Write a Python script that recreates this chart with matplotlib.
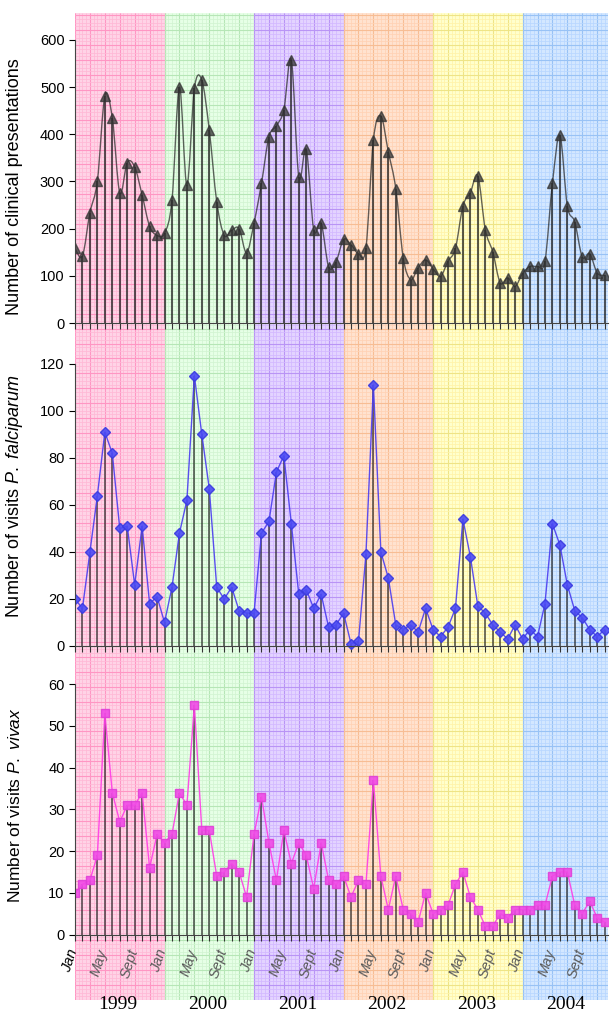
import numpy as np
import matplotlib
matplotlib.use('Agg')
import matplotlib.pyplot as plt
from matplotlib.path import Path
from matplotlib.patches import PathPatch

plt.rcParams['font.family'] = 'Liberation Sans'
plt.rcParams['mathtext.fontset'] = 'custom'
plt.rcParams['mathtext.rm'] = 'Liberation Sans'
plt.rcParams['mathtext.it'] = 'Liberation Sans:italic'

# monthly data Jan 1999 - Dec 2004
years = ['1999', '2000', '2001', '2002', '2003', '2004']
month_labels = ['Jan', 'May', 'Sept']

clinical = [158, 142, 234, 301, 481, 435, 276, 340, 331, 271, 205, 186,
            190, 260, 500, 292, 497, 515, 409, 257, 186, 197, 200, 149,
            212, 296, 395, 418, 452, 558, 310, 368, 198, 212, 119, 130,
            177, 166, 147, 159, 388, 439, 363, 285, 138, 92, 117, 134,
            115, 99, 131, 158, 248, 276, 312, 198, 151, 85, 96, 78,
            105, 120, 120, 131, 296, 398, 248, 214, 140, 147, 106, 101]

falciparum = [20, 16, 40, 64, 91, 82, 50, 51, 26, 51, 18, 21,
              10, 25, 48, 62, 115, 90, 67, 25, 20, 25, 15, 14,
              14, 48, 53, 74, 81, 52, 22, 24, 16, 22, 8, 9,
              14, 1, 2, 39, 111, 40, 29, 9, 7, 9, 6, 16,
              7, 4, 8, 16, 54, 38, 17, 14, 9, 6, 3, 9,
              3, 7, 4, 18, 52, 43, 26, 15, 12, 7, 4, 7]

vivax = [10, 12, 13, 19, 53, 34, 27, 31, 31, 34, 16, 24,
         22, 24, 34, 31, 55, 25, 25, 14, 15, 17, 15, 9,
         24, 33, 22, 13, 25, 17, 22, 19, 11, 22, 13, 12,
         14, 9, 13, 12, 37, 14, 6, 14, 6, 5, 3, 10,
         5, 6, 7, 12, 15, 9, 6, 2, 2, 5, 4, 6,
         6, 6, 7, 7, 14, 15, 15, 7, 5, 8, 4, 3]

band_colors = ['#ffd3e6', '#e6ffe6', '#e3d3ff', '#ffe2cf', '#ffffcc', '#d3e7ff']
minor_colors = ['#ffb8d6', '#d2f4d2', '#d3b8ff', '#ffd2b4', '#fff3a8', '#b8d7ff']
major_colors = ['#ff96c3', '#b6e6b6', '#b994f5', '#f7bd94', '#eee486', '#98c2f5']

W, H = 610, 1013
XMAX = 71.45
months = np.arange(len(clinical))

fig = plt.figure(figsize=(W / 100, H / 100), dpi=100)


def px_axes(top, bottom):
    return [75 / W, 1 - bottom / H, 533 / W, (bottom - top) / H]


# background bands with fine grid
bg = fig.add_axes(px_axes(13, 1000))
bg.set_xlim(0, XMAX)
bg.set_ylim(0, 987)
bg.axis('off')
for i in range(len(years)):
    x0 = 12 * i
    x1 = min(12 * (i + 1), XMAX)
    bg.axvspan(x0, x1, color=band_colors[i], lw=0)
    xs = np.arange(x0, x1 + 0.01, 0.5)
    bg.vlines(xs, 0, 987, color=minor_colors[i], lw=0.55)
    bg.vlines(xs[::4], 0, 987, color=major_colors[i], lw=0.8)
    ys = np.arange(0, 987, 3.73)
    bg.hlines(ys, x0, x1, color=minor_colors[i], lw=0.55)
    bg.hlines(ys[::4], x0, x1, color=major_colors[i], lw=0.8)

# month and year labels
for i in range(len(years)):
    for k, lab in enumerate(month_labels):
        c = 'black' if (i == 0 and k == 0) else '#5a5a5a'
        bg.text(12 * i + 4 * k - 0.7, 53, lab, rotation=72, ha='center', va='top',
                fontsize=10.5, style='italic', color=c)
    bg.text(12 * i + 5.8, -4, years[i], ha='center', va='center',
            fontsize=14, family='Liberation Serif')


def smooth_path(x, y):
    pts = np.column_stack([x, y]).astype(float)
    p = np.vstack([pts[0], pts, pts[-1]])
    verts = [pts[0]]
    codes = [Path.MOVETO]
    for j in range(1, len(p) - 2):
        c1 = p[j] + (p[j + 1] - p[j - 1]) / 6
        c2 = p[j + 1] - (p[j + 2] - p[j]) / 6
        verts += [c1, c2, p[j + 1]]
        codes += [Path.CURVE4] * 3
    return Path(verts, codes)


def setup(ax, ymax, step, ylim):
    ax.set_facecolor('none')
    ax.set_xlim(0, XMAX)
    ax.set_ylim(*ylim)
    for s in ['top', 'right']:
        ax.spines[s].set_visible(False)
    ax.spines['bottom'].set_position(('data', 0))
    ax.spines['left'].set_bounds(0, ymax)
    ax.spines['left'].set_color('#444444')
    ax.spines['bottom'].set_color('#444444')
    ax.set_yticks(np.arange(0, ymax + 1, step))
    ax.set_xticks(months)
    ax.set_xticklabels([])
    ax.tick_params(axis='x', direction='out', length=4, color='#333333')
    ax.tick_params(axis='y', labelsize=10.5, length=4)


# panel 1: clinical presentations
ax1 = fig.add_axes(px_axes(13, 330))
setup(ax1, 600, 100, (-14.8, 657))
ax1.vlines(months, 0, clinical, color='#222222', lw=1.5, alpha=0.75)
ax1.add_patch(PathPatch(smooth_path(months, clinical), fill=False,
                        ec='#222222', lw=1.0, alpha=0.7))
ax1.plot(months, clinical, ls='none', marker='^', ms=7, color='#333333', alpha=0.75)

# panel 2: P. falciparum
ax2 = fig.add_axes(px_axes(340, 655))
setup(ax2, 120, 20, (-3.83, 130.2))
ax2.vlines(months, 0, falciparum, color='#222222', lw=1.2, alpha=0.75)
ax2.plot(months, falciparum, color='#4a3cf0', lw=1.0, marker='D', ms=5,
         mfc='#4b4bf5', mec='#3a3ae0', alpha=0.9)

# panel 3: P. vivax
ax3 = fig.add_axes(px_axes(665, 945))
setup(ax3, 60, 10, (-2.5, 64.6))
ax3.vlines(months, 0, vivax, color='#222222', lw=1.2, alpha=0.75)
ax3.plot(months, vivax, color='#ff3ce6', lw=1.0, marker='s', ms=6,
         mfc='#f04ae6', mec='#e040d8', alpha=0.9)

fig.text(15 / W, 1 - 187 / H, 'Number of clinical presentations', rotation=90,
         ha='center', va='center', fontsize=13)
fig.text(15 / W, 1 - 496 / H, r'Number of visits $\it{P.\ falciparum}$', rotation=90,
         ha='center', va='center', fontsize=13)
fig.text(15 / W, 1 - 805 / H, r'Number of visits $\it{P.\ vivax}$', rotation=90,
         ha='center', va='center', fontsize=12.5)

fig.savefig('out.png', dpi=100)
